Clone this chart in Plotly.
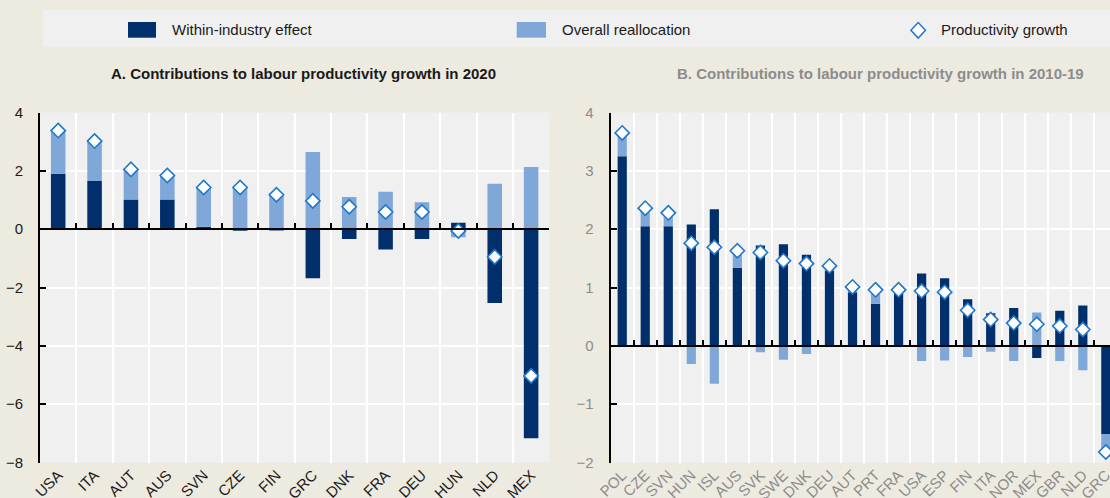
import plotly.graph_objects as go

W, H = 1110, 498

# ---------------- data ----------------
series_names = ["Within-industry effect", "Overall reallocation", "Productivity growth"]
title_a = "A. Contributions to labour productivity growth in 2020"
title_b = "B. Contributions to labour productivity growth in 2010-19"

cats_a = ["USA", "ITA", "AUT", "AUS", "SVN", "CZE", "FIN", "GRC", "DNK", "FRA", "DEU", "HUN", "NLD", "MEX"]
within_a = [1.90, 1.65, 1.02, 1.02, 0.08, -0.05, -0.04, -1.68, -0.34, -0.70, -0.34, 0.22, -2.53, -7.17]
realloc_a = [1.50, 1.40, 1.05, 0.85, 1.37, 1.47, 1.22, 2.65, 1.10, 1.28, 0.92, -0.28, 1.56, 2.13]
prod_a = [3.38, 3.02, 2.05, 1.84, 1.43, 1.43, 1.18, 0.97, 0.77, 0.59, 0.59, -0.06, -0.95, -5.03]

cats_b = ["POL", "CZE", "SVN", "HUN", "ISL", "AUS", "SVK", "SWE", "DNK", "DEU", "AUT", "PRT",
          "FRA", "USA", "ESP", "FIN", "ITA", "NOR", "MEX", "GBR", "NLD", "GRC"]
within_b = [3.25, 2.05, 2.05, 2.08, 2.34, 1.34, 1.72, 1.74, 1.56, 1.29, 0.92, 0.72,
            0.95, 1.24, 1.16, 0.80, 0.56, 0.65, -0.21, 0.60, 0.69, -1.51]
realloc_b = [0.40, 0.31, 0.23, -0.31, -0.65, 0.29, -0.11, -0.24, -0.14, 0.08, 0.09, 0.24,
             0.01, -0.26, -0.25, -0.19, -0.10, -0.26, 0.57, -0.26, -0.42, -0.31]
prod_b = [3.65, 2.36, 2.28, 1.76, 1.69, 1.63, 1.60, 1.46, 1.41, 1.37, 1.01, 0.96,
          0.96, 0.94, 0.92, 0.61, 0.45, 0.39, 0.37, 0.34, 0.28, -1.82]

yrange_a = [-8, 4]
yticks_a = [4, 2, 0, -2, -4, -6, -8]
yrange_b = [-2, 4]
yticks_b = [4, 3, 2, 1, 0, -1, -2]

# ---------------- style ----------------
DARK = "#002F6C"
LIGHT = "#7FA8D9"
DIAMOND_LINE = "#1F78C8"
PAPER = "#EDEAE0"
PLOT = "#F0F0F0"
GREY_TXT = "#8C8C8C"
TXT = "#1A1A1A"
FONT = "Liberation Sans, Arial, sans-serif"
FS = 15
FS_TITLE = 15

# pixel layout (screen pixels)
ax_left, ax_right = 40.0, 549.3
bx_left = 610.7
b_cat_px = 23.03          # width of one category slot in panel B (panel is cropped at the right)
plot_top, plot_bot = 112.5, 462.5


def px(x):
    return x / W


def py(y):
    return 1 - y / H


ydom = [py(plot_bot), py(plot_top)]
xrange_a = [-0.5, len(cats_a) - 0.5]
xrange_b = [-0.5, -0.5 + (W - bx_left) / b_cat_px]

fig = go.Figure()

diamond = dict(symbol="diamond", size=11, color="white", line=dict(color=DIAMOND_LINE, width=1.6))

# Panel A
fig.add_trace(go.Bar(x=cats_a, y=within_a, name=series_names[0], marker_color=DARK,
                     marker_line_width=0, width=0.4, xaxis="x", yaxis="y", showlegend=False))
fig.add_trace(go.Bar(x=cats_a, y=realloc_a, name=series_names[1], marker_color=LIGHT,
                     marker_line_width=0, width=0.4, xaxis="x", yaxis="y", showlegend=False))
fig.add_trace(go.Scatter(x=cats_a, y=prod_a, name=series_names[2], mode="markers",
                         marker=diamond, xaxis="x", yaxis="y", showlegend=False))
# Panel B
fig.add_trace(go.Bar(x=cats_b, y=within_b, name=series_names[0], marker_color=DARK,
                     marker_line_width=0, width=0.4, xaxis="x2", yaxis="y2", showlegend=False))
fig.add_trace(go.Bar(x=cats_b, y=realloc_b, name=series_names[1], marker_color=LIGHT,
                     marker_line_width=0, width=0.4, xaxis="x2", yaxis="y2", showlegend=False))
fig.add_trace(go.Scatter(x=cats_b, y=prod_b, name=series_names[2], mode="markers",
                         marker=diamond, xaxis="x2", yaxis="y2", showlegend=False))

# invisible helper traces for the zero-line axes
fig.add_trace(go.Scatter(x=list(range(len(cats_a))), y=[0] * len(cats_a), mode="markers",
                         marker=dict(opacity=0), xaxis="x3", yaxis="y",
                         showlegend=False, hoverinfo="skip"))
fig.add_trace(go.Scatter(x=list(range(len(cats_b))), y=[0] * len(cats_b), mode="markers",
                         marker=dict(opacity=0), xaxis="x4", yaxis="y2",
                         showlegend=False, hoverinfo="skip"))


def zero_pos(rng):
    frac = (0 - rng[0]) / (rng[1] - rng[0])
    return ydom[0] + frac * (ydom[1] - ydom[0])


xcommon = dict(type="category", tickson="boundaries", showgrid=True, gridcolor="white",
               gridwidth=2, ticks="", showline=False, zeroline=False, tickangle=-45,
               automargin=False)
ycommon = dict(showline=True, linecolor="black", linewidth=2, ticks="inside", ticklen=6,
               tickwidth=2, tickcolor="black", gridcolor="white", gridwidth=2,
               zeroline=False, automargin=False, ticklabelstandoff=12, domain=ydom)
zcommon = dict(type="linear", anchor="free", showline=True, linecolor="black", linewidth=2,
               ticks="inside", ticklen=5, tickwidth=2, tickcolor="black", showgrid=False,
               showticklabels=False, zeroline=False, automargin=False, side="bottom")

fig.update_layout(
    width=W, height=H, autosize=False,
    margin=dict(l=0, r=0, t=0, b=0, pad=0),
    paper_bgcolor=PAPER, plot_bgcolor=PLOT,
    font=dict(family=FONT, size=FS, color=TXT),
    barmode="relative",
    showlegend=False,
    xaxis=dict(**xcommon, domain=[px(ax_left), px(ax_right)], anchor="y", range=xrange_a,
               tickfont=dict(color=TXT, size=FS)),
    yaxis=dict(**ycommon, anchor="x", range=yrange_a, tickvals=yticks_a,
               tickfont=dict(color=TXT, size=FS)),
    xaxis2=dict(**xcommon, domain=[px(bx_left), 1.0], anchor="y2", range=xrange_b,
                tickfont=dict(color=GREY_TXT, size=FS)),
    yaxis2=dict(**ycommon, anchor="x2", range=yrange_b, tickvals=yticks_b,
                tickfont=dict(color=GREY_TXT, size=FS)),
    xaxis3=dict(**zcommon, overlaying="x", domain=[px(ax_left), px(ax_right)],
                position=zero_pos(yrange_a), range=xrange_a,
                tickvals=[i - 0.5 for i in range(len(cats_a) + 1)]),
    xaxis4=dict(**zcommon, overlaying="x2", domain=[px(bx_left), 1.0],
                position=zero_pos(yrange_b), range=xrange_b,
                tickvals=[i - 0.5 for i in range(len(cats_b) + 1)]),
)

# ---------------- legend (custom, drawn in paper space) ----------------
shapes = [
    dict(type="rect", xref="paper", yref="paper", x0=px(43.3), x1=1.0, y0=py(46.7), y1=py(10),
         fillcolor=PLOT, line=dict(width=0), layer="below"),
    dict(type="rect", xref="paper", yref="paper", x0=px(128), x1=px(156), y0=py(37.7), y1=py(22),
         fillcolor=DARK, line=dict(width=0)),
    dict(type="rect", xref="paper", yref="paper", x0=px(516.7), x1=px(546), y0=py(37.7), y1=py(22),
         fillcolor=LIGHT, line=dict(width=0)),
]
cx, cy, r = 918.2, 30.3, 7.3
shapes.append(dict(type="path", xref="paper", yref="paper",
                   path=f"M {px(cx - r)},{py(cy)} L {px(cx)},{py(cy - r - 0.5)} "
                        f"L {px(cx + r)},{py(cy)} L {px(cx)},{py(cy + r + 0.5)} Z",
                   fillcolor="white", line=dict(color=DIAMOND_LINE, width=1.5)))
fig.update_layout(shapes=shapes)

annotations = []
for name, x0 in zip(series_names, [170, 559.5, 939]):
    annotations.append(dict(text=name, xref="paper", yref="paper", x=px(x0), y=py(30),
                            xanchor="left", yanchor="middle", showarrow=False,
                            font=dict(family=FONT, size=FS, color=TXT)))
annotations.append(dict(text=f"<b>{title_a}</b>", xref="paper", yref="paper", x=px(303.5),
                        y=py(73.5), xanchor="center", yanchor="middle", showarrow=False,
                        font=dict(family=FONT, size=FS_TITLE, color=TXT)))
annotations.append(dict(text=f"<b>{title_b}</b>", xref="paper", yref="paper", x=px(880),
                        y=py(73.5), xanchor="center", yanchor="middle", showarrow=False,
                        font=dict(family=FONT, size=FS_TITLE, color=GREY_TXT)))
fig.update_layout(annotations=annotations)

# remove the page's default body margin so the figure fills the window exactly
fig.write_html(
    "out.html",
    config={"displayModeBar": False},
    post_script="document.body.style.margin='0';document.body.style.overflow='hidden';"
                "document.body.style.background='" + PAPER + "';",
)
